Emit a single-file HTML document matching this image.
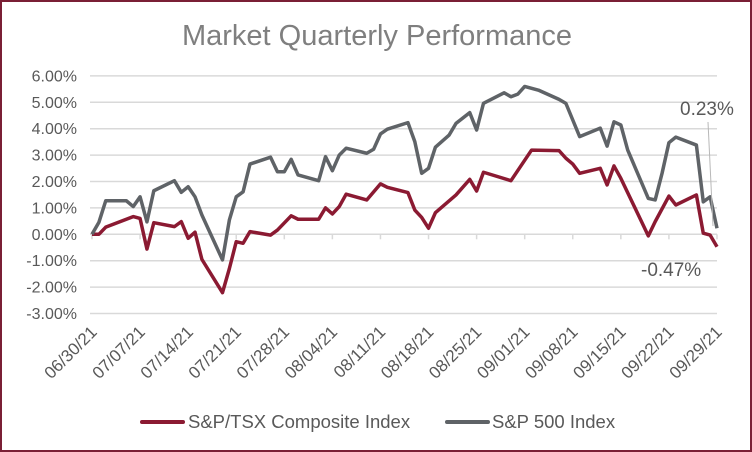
<!DOCTYPE html>
<html><head><meta charset="utf-8"><style>
body{margin:0;background:#fff}
svg{display:block;font-family:"Liberation Sans",sans-serif}
</style></head><body>
<svg id="chart" width="752" height="452" viewBox="0 0 752 452">
<rect x="1" y="1" width="750" height="450" fill="#fff" stroke="#7a1f35" stroke-width="2"/>
<text x="377" y="45" text-anchor="middle" font-size="29" fill="#7f7f7f">Market Quarterly Performance</text>
<g id="grid"></g><g id="yaxis"></g><g id="xaxis"></g><g id="series"></g>
<line x1="708" y1="122" x2="713" y2="226" stroke="#b8b8b8" stroke-width="1"/>
<text x="680" y="115" font-size="19" fill="#595959">0.23%</text>
<text x="641" y="276" font-size="19" fill="#595959">-0.47%</text>
<g>
<line x1="142" y1="422" x2="183" y2="422" stroke="#8b1a32" stroke-width="4" stroke-linecap="round"/>
<text x="188" y="428" font-size="18.5" fill="#595959">S&amp;P/TSX Composite Index</text>
<line x1="447" y1="422" x2="488" y2="422" stroke="#5f6367" stroke-width="4" stroke-linecap="round"/>
<text x="492" y="428" font-size="18.5" fill="#595959">S&amp;P 500 Index</text>
</g>
</svg>
<script>
const xLabels=["06/30/21","07/07/21","07/14/21","07/21/21","07/28/21","08/04/21","08/11/21","08/18/21","08/25/21","09/01/21","09/08/21","09/15/21","09/22/21","09/29/21"];
const yTicks=[6,5,4,3,2,1,0,-1,-2,-3];
const spDays=[0,1,2,5,6,7,8,9,12,13,14,15,16,19,20,21,22,23,26,27,28,29,30,33,34,35,36,37,40,41,42,43,46,47,48,49,50,52,53,55,56,57,60,61,62,63,65,68,69,70,71,74,75,76,77,78,81,82,83,84,85,88,89,90,91];
const spVals=[0,0.45,1.27,1.27,1.05,1.42,0.47,1.65,2.03,1.59,1.80,1.42,0.73,-0.97,0.54,1.42,1.61,2.66,2.92,2.37,2.37,2.84,2.25,2.03,2.94,2.41,3.0,3.26,3.07,3.22,3.80,3.98,4.23,3.51,2.31,2.50,3.30,3.76,4.20,4.61,3.95,4.96,5.36,5.21,5.31,5.60,5.46,5.11,4.96,4.33,3.70,4.02,3.34,4.26,4.14,3.19,1.36,1.30,2.31,3.47,3.68,3.38,1.23,1.42,0.23];
const tsxDays=[0,1,2,6,7,8,9,12,13,14,15,16,19,20,21,22,23,26,27,29,30,33,34,35,36,37,40,42,43,46,47,48,49,50,53,55,56,57,61,64,68,69,70,71,74,75,76,77,81,82,84,85,88,89,90,91];
const tsxVals=[0,0,0.27,0.67,0.6,-0.56,0.44,0.29,0.48,-0.15,0.08,-0.95,-2.21,-1.3,-0.28,-0.34,0.1,-0.03,0.16,0.7,0.57,0.57,1.0,0.77,1.05,1.52,1.30,1.91,1.78,1.58,0.92,0.64,0.23,0.82,1.49,2.08,1.64,2.35,2.03,3.19,3.17,2.88,2.66,2.31,2.50,1.87,2.59,2.12,-0.06,0.48,1.45,1.11,1.49,0.04,-0.03,-0.47];
const NS='http://www.w3.org/2000/svg';
const X0=92,X1=717,DMAX=91,Y0=234.3,PX=26.4;
const xs=d=>X0+(X1-X0)*d/DMAX;
const ys=v=>Y0-v*PX;
function mk(t,a,p){const e=document.createElementNS(NS,t);for(const k in a)e.setAttribute(k,a[k]);p.appendChild(e);return e;}
const grid=document.getElementById('grid'),ya=document.getElementById('yaxis'),xa=document.getElementById('xaxis'),se=document.getElementById('series');
yTicks.forEach(v=>{
 const l=mk('line',{x1:90,x2:717,y1:ys(v),y2:ys(v),stroke:'#d9d9d9','stroke-width':1.5},grid);
 
 
 const t=mk('text',{x:77,y:ys(v)+5.5,'text-anchor':'end','font-size':16,fill:'#595959'},ya);
 t.textContent=v.toFixed(2)+'%';
 
 
});
xLabels.forEach((s,i)=>{
 const x=xs(i*7);
 const tk=mk('line',{x1:x,x2:x,y1:Y0,y2:Y0+5,stroke:'#d9d9d9','stroke-width':1.5},xa);
 
 
 const t=mk('text',{x:x+6,y:333,'text-anchor':'end','font-size':17,fill:'#595959',transform:`rotate(-45 ${x+6} 333)`},xa);
 t.textContent=s;
 
 
});
function line(days,vals,col,name){
 const p=mk('polyline',{points:days.map((d,i)=>xs(d)+','+ys(vals[i])).join(' '),fill:'none',stroke:col,'stroke-width':3.5,'stroke-linejoin':'round'},se);
 
 
}
line(tsxDays,tsxVals,'#8b1a32','tsx-line');
line(spDays,spVals,'#5f6367','sp500-line');
</script>
</body></html>
